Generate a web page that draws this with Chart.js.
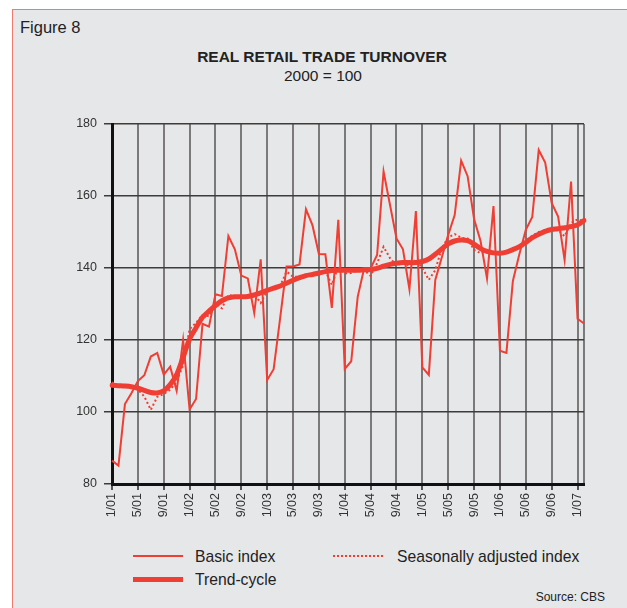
<!DOCTYPE html>
<html>
<head>
<meta charset="utf-8">
<script src="https://cdn.jsdelivr.net/npm/chart.js@4.4.1/dist/chart.umd.min.js"></script>
<style>
  body { margin: 0; width: 627px; height: 608px; overflow: hidden; background: #fff;
         font-family: 'Liberation Sans', Arial, sans-serif; color: #222; }
  #frame { position: absolute; left: 12px; top: 9px; width: 640px; height: 620px;
           background: #e6e7e9; border-left: 1.5px solid #ee7b70; border-top: 1.5px solid #ee7b70; }
  .txt { position: absolute; white-space: nowrap; line-height: 1.15; }
  #fig { left: 20px; top: 18px; font-size: 16.5px; }
  #title { left: 0; width: 644px; top: 48px; text-align: center; font-size: 15.5px; font-weight: bold; }
  #sub { left: 0; width: 646px; top: 67px; text-align: center; font-size: 15.5px; }
  #chartBox { position: absolute; left: 0; top: 100px; width: 627px; height: 440px; }
  .sample { position: absolute; width: 50px; height: 0; }
  .leg { font-size: 15.7px; }
  #source { right: 22px; top: 591px; font-size: 12px; }
</style>
</head>
<body>
<div id="frame"></div>
<div class="txt" id="fig">Figure 8</div>
<div class="txt" id="title">REAL RETAIL TRADE TURNOVER</div>
<div class="txt" id="sub">2000 = 100</div>
<div id="chartBox"><canvas id="chart"></canvas></div>

<div class="sample" style="left:133px;top:555px;border-top:2px solid #ef3e33"></div>
<div class="txt leg" style="left:195px;top:548px">Basic index</div>
<div class="sample" style="left:333px;top:555px;border-top:2px dotted #ef3e33"></div>
<div class="txt leg" style="left:397px;top:548px">Seasonally adjusted index</div>
<div class="sample" style="left:133px;top:577px;border-top:5px solid #ef3e33"></div>
<div class="txt leg" style="left:195px;top:571px">Trend-cycle</div>
<div class="txt" id="source">Source: CBS</div>

<script>
/* --- Data ---------------------------------------------------- */
const MONTHS = [
  '1/01','2/01','3/01','4/01','5/01','6/01','7/01','8/01','9/01','10/01','11/01','12/01',
  '1/02','2/02','3/02','4/02','5/02','6/02','7/02','8/02','9/02','10/02','11/02','12/02',
  '1/03','2/03','3/03','4/03','5/03','6/03','7/03','8/03','9/03','10/03','11/03','12/03',
  '1/04','2/04','3/04','4/04','5/04','6/04','7/04','8/04','9/04','10/04','11/04','12/04',
  '1/05','2/05','3/05','4/05','5/05','6/05','7/05','8/05','9/05','10/05','11/05','12/05',
  '1/06','2/06','3/06','4/06','5/06','6/06','7/06','8/06','9/06','10/06','11/06','12/06',
  '1/07','2/07'
];

const BASIC = [
  86.5, 85.1, 102.2, 105.2, 108.6, 110.2, 115.4, 116.4, 110.4, 112.6, 105.9, 120.0,
  100.7, 103.6, 124.5, 123.7, 132.7, 132.2, 148.9, 145.2, 137.9, 137.1, 127.5, 142.4,
  108.9, 111.9, 126.0, 140.4, 140.4, 141.0, 156.3, 151.9, 143.9, 143.8, 128.9, 153.4,
  112.0, 114.1, 132.0, 139.9, 139.9, 143.6, 166.8, 157.5, 148.2, 145.2, 134.1, 155.8,
  112.4, 110.3, 136.7, 142.9, 149.2, 154.7, 169.8, 165.5, 153.6, 147.5, 137.1, 157.2,
  117.0, 116.4, 136.4, 143.8, 150.6, 154.2, 172.8, 169.3, 158.1, 154.3, 142.2, 164.0,
  125.9, 124.6
];

const SEAS_ADJ = [
  108.3, 106.8, 107.6, 107.0, 106.3, 104.3, 100.6, 104.2, 105.0, 106.2, 108.5, 113.0,
  123.0, 124.8, 126.9, 126.6, 130.0, 128.8, 132.6, 132.0, 131.8, 132.4, 132.8, 130.3,
  133.6, 134.0, 135.0, 139.0, 137.6, 137.6, 138.2, 137.8, 138.8, 139.2, 135.3, 140.4,
  138.5, 138.6, 139.4, 139.4, 137.8, 141.3, 145.9, 142.7, 140.7, 141.5, 140.6, 142.3,
  140.0, 136.7, 139.4, 145.5, 148.5, 149.4, 148.4, 148.2, 145.0, 144.1, 144.6, 144.0,
  144.0, 144.6, 145.0, 146.0, 147.6, 149.0, 150.0, 150.5, 150.5, 150.6, 148.8, 152.5,
  153.5, 153.0
];

const TREND = [
  107.4, 107.3, 107.2, 107.0, 106.6, 106.0, 105.4, 105.3, 105.9, 107.6, 110.4, 115.2,
  120.3, 123.4, 126.3, 128.0, 129.6, 130.9, 131.7, 132.0, 132.0, 132.1, 132.5, 133.1,
  133.8, 134.4, 135.0, 135.8, 136.6, 137.3, 137.9, 138.2, 138.6, 139.0, 139.3, 139.4,
  139.4, 139.4, 139.4, 139.5, 139.6, 139.9, 140.5, 141.0, 141.3, 141.5, 141.5, 141.5,
  141.8, 142.5, 143.8, 145.3, 146.7, 147.5, 147.8, 147.6, 146.6, 145.4, 144.6, 144.2,
  144.1, 144.4, 145.1, 145.9, 147.1, 148.4, 149.4, 150.2, 150.7, 150.9, 151.2, 151.5,
  152.0, 153.2
];

const Y_MIN = 80, Y_MAX = 180, Y_STEP = 20;
const LABEL_EVERY = 4;

/* --- Chart --------------------------------------------------- */
const RED = '#ef3e33';
const FONT = { family: "'Liberation Sans', Arial, sans-serif", size: 12.5 };
const isLabelled = i => i % LABEL_EVERY === 0;

new Chart(document.getElementById('chart'), {
  type: 'line',
  data: {
    labels: MONTHS,
    datasets: [
      { label: 'Basic index', data: BASIC, borderColor: RED, borderWidth: 2, pointRadius: 0, tension: 0 },
      { label: 'Seasonally adjusted index', data: SEAS_ADJ, borderColor: RED, borderWidth: 2,
        borderDash: [2, 2.5], pointRadius: 0, tension: 0 },
      { label: 'Trend-cycle', data: TREND, borderColor: RED, borderWidth: 5, pointRadius: 0,
        tension: 0.3, borderCapStyle: 'round' },
    ]
  },
  options: {
    responsive: true,
    maintainAspectRatio: false,
    animation: false,
    layout: { padding: { left: 0, right: 43, top: 24, bottom: 0 } },
    plugins: { legend: { display: false }, tooltip: { enabled: false } },
    scales: {
      x: {
        type: 'category',
        offset: false,
        afterFit: s => { s.height = 56; },
        border: { color: '#111', width: 3 },
        grid: {
          color: ctx => (isLabelled(ctx.index) || ctx.index === MONTHS.length - 1) ? '#7a7a7a' : 'rgba(0,0,0,0)',
          tickColor: ctx => isLabelled(ctx.index) ? '#555' : 'rgba(0,0,0,0)',
          lineWidth: 2,
          tickLength: 6,
        },
        ticks: {
          autoSkip: false, maxRotation: 90, minRotation: 90, padding: 3,
          color: '#333', font: FONT,
          callback: (v, i) => isLabelled(i) ? MONTHS[i] : '',
        }
      },
      y: {
        min: Y_MIN, max: Y_MAX,
        afterFit: s => { s.width = 112; },
        border: { color: '#111', width: 3 },
        grid: { color: '#3c3c3c', lineWidth: 1.5, tickLength: 8 },
        ticks: { stepSize: Y_STEP, padding: 7, color: '#333', font: FONT },
      }
    }
  }
});
</script>
</body>
</html>
